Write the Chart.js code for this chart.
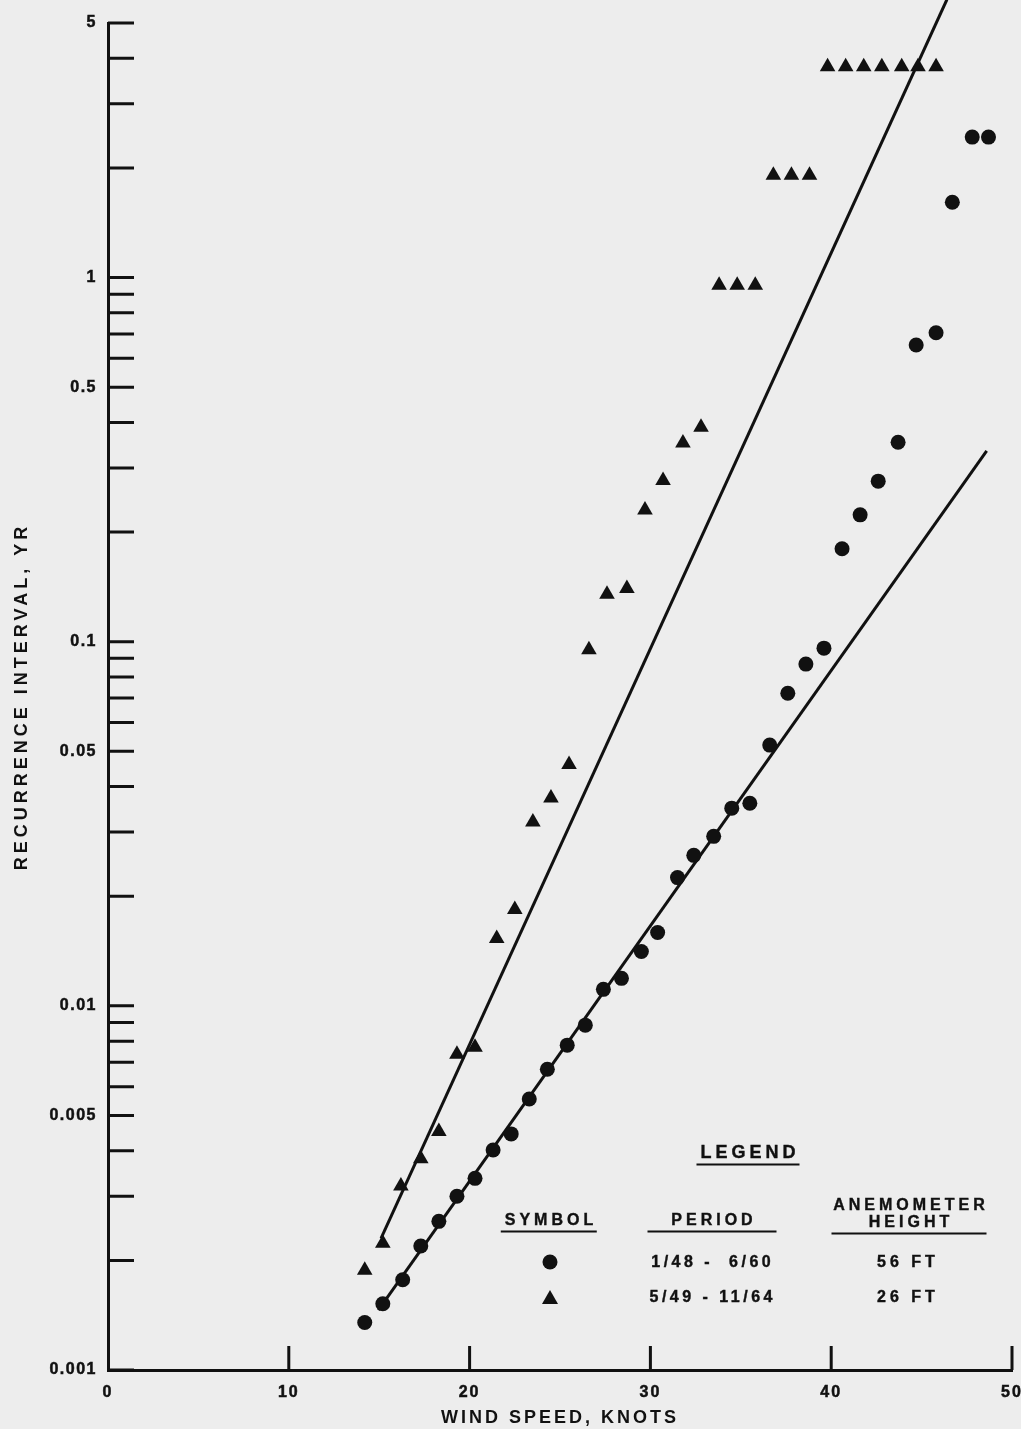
<!DOCTYPE html>
<html>
<head>
<meta charset="utf-8">
<title>Recurrence interval vs wind speed</title>
<script src="https://cdn.jsdelivr.net/npm/chart.js@4.4.0/dist/chart.umd.min.js"></script>
<style>
  html, body { margin: 0; padding: 0; background: #ededed; }
  #wrap { position: relative; width: 1021px; height: 1429px; overflow: hidden; }
  #mycanvas { position: absolute; left: 0; top: 0; }
  .lg {
    position: absolute; transform: translate(-50%, -50%);
    font: bold 16px "Liberation Sans", Arial, sans-serif;
    letter-spacing: 4px; padding-left: 4px; line-height: 16px;
    color: #111; white-space: pre; text-align: center;
    -webkit-text-stroke: 0.4px #111;
  }
  .lg.big { font-size: 18px; line-height: 18px; }
  .lg.u { padding-bottom: 3px; border-bottom: 2px solid #111; }
  .lg.tight { letter-spacing: 3.5px; padding-left: 3.5px; }
  .dot {
    position: absolute; transform: translate(-50%, -50%);
    width: 15px; height: 15px; border-radius: 50%; background: #111;
  }
  .tri {
    position: absolute; transform: translate(-50%, -50%);
    width: 0; height: 0;
    border-left: 8px solid transparent; border-right: 8px solid transparent;
    border-bottom: 14px solid #111;
  }
</style>
</head>
<body>
<div id="wrap">
  <canvas id="mycanvas" width="1021" height="1429"></canvas>
  <div class="lg big u" style="left:748px;top:1154px">LEGEND</div>
  <div class="lg u" style="left:549px;top:1222px">SYMBOL</div>
  <div class="lg u" style="left:712px;top:1222px;width:125px">PERIOD</div>
  <div class="lg" style="left:909px;top:1205px">ANEMOMETER</div>
  <div class="lg u" style="left:909px;top:1224px;width:151px">HEIGHT</div>
  <div class="dot" style="left:550px;top:1262px"></div>
  <div class="lg tight" style="left:711px;top:1262px">1/48 -  6/60</div>
  <div class="lg" style="left:906px;top:1262px">56 FT</div>
  <div class="tri" style="left:550px;top:1297px"></div>
  <div class="lg tight" style="left:711px;top:1297px">5/49 - 11/64</div>
  <div class="lg" style="left:906px;top:1297px">26 FT</div>
</div>
<script>
// 1/48 - 6/60, anemometer 56 ft (circles)
var speed56 = [14.2, 15.2, 16.3, 17.3, 18.3, 19.3, 20.3, 21.3, 22.3, 23.3, 24.3, 25.4,
	26.4, 27.4, 28.4, 29.5, 30.4, 31.5, 32.4, 33.5, 34.5, 35.5, 36.6, 37.6, 38.6, 39.6,
	40.6, 41.6, 42.6, 43.7, 44.7, 45.8, 46.7, 47.8, 48.7];
var interval56 = [0.00135, 0.00152, 0.00177, 0.00219, 0.00256, 0.0030, 0.00336, 0.00402,
	0.00445, 0.00555, 0.0067, 0.0078, 0.00885, 0.0111, 0.0119, 0.0141, 0.0159, 0.0225,
	0.0259, 0.0292, 0.0349, 0.036, 0.052, 0.0722, 0.0868, 0.096, 0.18, 0.223, 0.276,
	0.353, 0.653, 0.705, 1.61, 2.43, 2.43];

// 5/49 - 11/64, anemometer 26 ft (triangles)
var speed26 = [14.2, 15.2, 16.2, 17.3, 18.3, 19.3, 20.3, 21.5, 22.5, 23.5, 24.5, 25.5,
	26.6, 27.6, 28.7, 29.7, 30.7, 31.8, 32.8, 33.8, 34.8, 35.8, 36.8, 37.8, 38.8,
	39.8, 40.8, 41.8, 42.8, 43.9, 44.8, 45.8];
var interval26 = [0.00188, 0.00223, 0.0032, 0.0038, 0.00452, 0.00736, 0.0077, 0.0153,
	0.0184, 0.032, 0.0372, 0.046, 0.095, 0.135, 0.14, 0.23, 0.277, 0.351, 0.388,
	0.953, 0.953, 0.953, 1.91, 1.91, 1.91, 3.79, 3.79, 3.79, 3.79, 3.79, 3.79, 3.79];

// fitted lines (end points)
var fit56Speed = [14.95, 48.6];
var fit56Interval = [0.00146, 0.334];
var fit26Speed = [15.1, 46.4];
var fit26Interval = [0.0023, 5.8];

var xTickLabels = [0, 10, 20, 30, 40, 50];
var yTickLabels = [0.001, 0.005, 0.01, 0.05, 0.1, 0.5, 1, 5];
var yTickMarks = [0.001, 0.002, 0.003, 0.004, 0.005, 0.006, 0.007, 0.008, 0.009,
	0.01, 0.02, 0.03, 0.04, 0.05, 0.06, 0.07, 0.08, 0.09,
	0.1, 0.2, 0.3, 0.4, 0.5, 0.6, 0.7, 0.8, 0.9,
	1, 2, 3, 4, 5];

var ink = '#111111';
var fam = '"Liberation Sans", Arial, sans-serif';
var spacing = { x: { title: '3px', ticks: '2px' }, y: { title: '4px', ticks: '1.5px' } };

function pairs(xs, ys) {
	var out = [];
	for (var i in xs) {
		out.push({ x: xs[i], y: ys[i] });
	}
	return out;
}

// canvas has no letter-spacing option in Chart.js, so wrap the scale text drawing
var spacedText = {
	id: 'spacedText',
	beforeDraw: function (chart) {
		Object.keys(chart.scales).forEach(function (id) {
			var scale = chart.scales[id];
			if (scale._spaced || !spacing[id]) return;
			scale._spaced = true;
			[['drawTitle', 'title'], ['drawLabels', 'ticks']].forEach(function (p) {
				var orig = scale[p[0]];
				scale[p[0]] = function () {
					this.ctx.save();
					this.ctx.letterSpacing = spacing[id][p[1]];
					orig.apply(this, arguments);
					this.ctx.restore();
				};
			});
		});
	}
};

// tick marks point inwards on this plot
var innerTicks = {
	id: 'innerTicks',
	afterDatasetsDraw: function (chart) {
		var ctx = chart.ctx, area = chart.chartArea;
		var x = chart.scales.x, y = chart.scales.y;
		ctx.save();
		ctx.strokeStyle = ink;
		ctx.lineWidth = 3;
		ctx.beginPath();
		y.ticks.forEach(function (t) {
			var py = y.getPixelForValue(t.value);
			ctx.moveTo(area.left, py);
			ctx.lineTo(area.left + 26, py);
		});
		x.ticks.forEach(function (t) {
			if (t.value === 0) return;
			var px = x.getPixelForValue(t.value);
			ctx.moveTo(px, area.bottom);
			ctx.lineTo(px, area.bottom - 24);
		});
		ctx.stroke();
		ctx.restore();
	}
};

var chartdata = {
	datasets: [
		{
			label: '1/48 - 6/60  56 FT',
			data: pairs(speed56, interval56),
			pointStyle: 'circle',
			pointRadius: 7.5,
			pointBorderWidth: 0,
			backgroundColor: ink,
			borderColor: ink
		},
		{
			label: '5/49 - 11/64  26 FT',
			data: pairs(speed26, interval26),
			pointStyle: 'triangle',
			pointRadius: 9,
			pointBorderWidth: 0,
			backgroundColor: ink,
			borderColor: ink
		},
		{
			label: 'fit 56 FT',
			data: pairs(fit56Speed, fit56Interval),
			showLine: true,
			pointRadius: 0,
			borderWidth: 3,
			borderColor: ink
		},
		{
			label: 'fit 26 FT',
			data: pairs(fit26Speed, fit26Interval),
			showLine: true,
			pointRadius: 0,
			borderWidth: 3,
			borderColor: ink,
			clip: false
		}
	]
};

var ctx = document.getElementById('mycanvas');

var plot = new Chart(ctx, {
	type: 'scatter',
	data: chartdata,
	plugins: [spacedText, innerTicks],
	options: {
		responsive: false,
		animation: false,
		layout: { padding: { top: 23, right: 8, left: 0, bottom: 0 } },
		plugins: {
			legend: { display: false },
			tooltip: { enabled: false }
		},
		scales: {
			x: {
				type: 'linear',
				min: 0,
				max: 50,
				afterBuildTicks: function (scale) {
					scale.ticks = xTickLabels.map(function (v) { return { value: v }; });
				},
				afterFit: function (scale) {
					scale.height = 59;
					scale.paddingLeft = 0;
					scale.paddingRight = 0;
				},
				grid: { display: false, drawTicks: false },
				border: { display: true, color: ink, width: 3 },
				ticks: {
					padding: 13,
					color: ink,
					maxRotation: 0,
					autoSkip: false,
					textStrokeColor: ink,
					textStrokeWidth: 0.5,
					font: { family: fam, size: 16, weight: 'bold' }
				},
				title: {
					display: true,
					text: 'WIND SPEED, KNOTS',
					color: ink,
					padding: { top: 0, bottom: 0 },
					font: { family: fam, size: 18, weight: 'bold' }
				}
			},
			y: {
				type: 'logarithmic',
				min: 0.001,
				max: 5,
				afterBuildTicks: function (scale) {
					scale.ticks = yTickMarks.map(function (v) { return { value: v }; });
				},
				afterFit: function (scale) {
					scale.width = 108;
					scale.paddingTop = 0;
					scale.paddingBottom = 0;
				},
				grid: { display: false, drawTicks: false },
				border: { display: true, color: ink, width: 3 },
				ticks: {
					padding: 11,
					color: ink,
					autoSkip: false,
					textStrokeColor: ink,
					textStrokeWidth: 0.5,
					font: { family: fam, size: 16, weight: 'bold' },
					callback: function (v) {
						return yTickLabels.indexOf(v) >= 0 ? String(v) : '';
					}
				},
				title: {
					display: true,
					text: 'RECURRENCE INTERVAL, YR',
					color: ink,
					padding: { top: 11, bottom: 0 },
					font: { family: fam, size: 18, weight: 'bold' }
				}
			}
		}
	}
});
</script>
</body>
</html>
